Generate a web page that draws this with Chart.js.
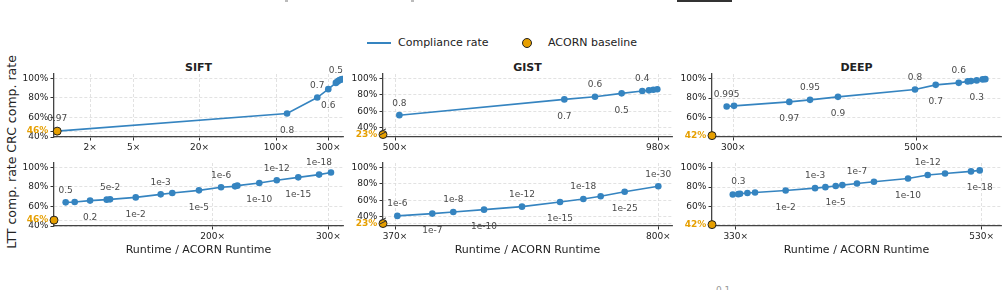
<!DOCTYPE html>
<html>
<head>
<meta charset="utf-8">
<script src="https://cdn.jsdelivr.net/npm/chart.js@4"></script>
<style>
  html, body { margin: 0; padding: 0; background: #fff; }
  body { width: 1007px; height: 290px; position: relative; overflow: hidden; font-family: "DejaVu Sans", sans-serif; color: #222; }
  canvas { position: absolute; }
  .txt { position: absolute; white-space: nowrap; }
  .title { position: absolute; text-align: center; font-weight: bold; font-size: 11px; line-height: 14px; }
  .ylab { position: absolute; font-size: 12.5px; line-height: 14px; transform: translate(-50%, -50%) rotate(-90deg); white-space: nowrap; }
</style>
</head>
<body>
<!-- leftovers of the figures above and below, cut by the crop -->
<div style="position:absolute;left:677px;top:0;width:55px;height:2px;background:#333"></div>
<div style="position:absolute;left:285px;top:0;width:3px;height:2px;background:#bbb"></div>
<div style="position:absolute;left:411px;top:0;width:3px;height:2px;background:#bbb"></div>
<div class="txt" style="left:716px;top:285px;font-size:9px;line-height:10px;color:#999">0.1</div>

<!-- legend -->
<div style="position:absolute;left:367px;top:42px;width:24px;height:2px;background:#3584c0"></div>
<div class="txt" style="left:398px;top:36px;font-size:11px;line-height:14px">Compliance rate</div>
<div style="position:absolute;left:522px;top:38px;width:8px;height:8px;border-radius:50%;background:#e69f00;border:1px solid #222"></div>
<div class="txt" style="left:548px;top:36px;font-size:11px;line-height:14px">ACORN baseline</div>

<div class="title" style="left:54px;top:61px;width:289px">SIFT</div>
<div class="title" style="left:383px;top:61px;width:289px">GIST</div>
<div class="title" style="left:712px;top:61px;width:289px">DEEP</div>

<div class="ylab" style="left:12px;top:152px">LTT comp. rate CRC comp. rate</div>

<canvas id="c00"></canvas>
<canvas id="c01"></canvas>
<canvas id="c02"></canvas>
<canvas id="c10"></canvas>
<canvas id="c11"></canvas>
<canvas id="c12"></canvas>

<script>
// ACORN baseline (comp. rate, %)
const siftBase = 46;
const gistBase = 23;
const deepBase = 42;

// SIFT, CRC (x = runtime / ACORN runtime, y = comp. rate %)
const siftCrcX = [1, 126, 238, 300, 352, 362, 372, 382, 392, 403];
const siftCrcY = [46, 64, 80.4, 89, 95.4, 96.5, 97.5, 98.3, 98.9, 99.3];
const siftCrcLbl = ['0.97', '0.8', '0.7', '0.6', '0.5', '', '', '', '', ''];
const siftCrcTicks = [2, 5, 20, 100, 300];

// SIFT, LTT
const siftLttX = [72.8, 80.6, 93.9, 108.3, 111.2, 133.4, 155, 165, 188.1, 207.2, 219.3, 221.3, 240.3, 255.4, 274, 292, 302.3];
const siftLttY = [64.2, 64.6, 66, 67, 67.3, 69.3, 72.4, 73.8, 76.5, 79.6, 80.6, 81.3, 84.1, 86.8, 89.8, 92.6, 94.7];
const siftLttLbl = ['0.5', '', '0.2', '', '5e-2', '1e-2', '1e-3', '', '1e-5', '1e-6', '', '', '1e-10', '1e-12', '1e-15', '1e-18', ''];
const siftLttTicks = [200, 300];

// GIST, CRC
const gistCrcX = [507.9, 808.7, 864.6, 913.2, 950.8, 963, 970.9, 978.2];
const gistCrcY = [55.4, 74.5, 77.7, 81.8, 84.6, 85.4, 86.2, 86.7];
const gistCrcLbl = ['0.8', '0.7', '0.6', '0.5', '0.4', '', '', ''];
const gistCrcTicks = [500, 980];

// GIST, LTT
const gistLttX = [373.8, 430.9, 465.2, 515.4, 577.4, 639.5, 677.6, 705.9, 745.1, 800];
const gistLttY = [41.2, 44, 46, 48.8, 52.4, 58.1, 61.7, 64.9, 70.5, 77];
const gistLttLbl = ['1e-6', '1e-7', '1e-8', '1e-10', '1e-12', '1e-15', '1e-18', '', '1e-25', '1e-30'];
const gistLttTicks = [370, 800];

// DEEP, CRC
const deepCrcX = [292.8, 300.8, 361.1, 383.7, 414.2, 498.2, 520.8, 545.9, 555.7, 559.3, 565.5, 572, 574.9];
const deepCrcY = [71.6, 72.2, 76.2, 78.3, 81.3, 88.8, 93.5, 95.5, 97, 97.3, 98, 99, 99.3];
const deepCrcLbl = ['0.995', '', '0.97', '0.95', '0.9', '0.8', '0.7', '0.6', '', '', '0.3', '', ''];
const deepCrcTicks = [300, 500];

// DEEP, LTT
const deepLttX = [327.6, 332.1, 333.5, 339.5, 345.7, 370.6, 394.5, 402.9, 411.3, 416.7, 428.6, 442.4, 470.1, 486.1, 500.2, 521.3, 528.4];
const deepLttY = [72.5, 72.9, 73.3, 74, 74.6, 76.6, 79, 80, 81.1, 82.1, 83.7, 85.5, 88.8, 92.3, 93.9, 96, 97];
const deepLttLbl = ['', '0.3', '', '', '', '1e-2', '1e-3', '', '1e-5', '', '1e-7', '', '1e-10', '1e-12', '', '', '1e-18'];
const deepLttTicks = [330, 530];

const yTickVals = [40, 60, 80, 100];

const BLUE = '#3584c0';
const ORANGE = '#e69f00';
const GRID = '#dadada';
const SPINE = '#444';

Chart.defaults.font.family = '"DejaVu Sans", sans-serif';
Chart.defaults.animation = false;

// layout of the plot areas
const COLS = [54, 383, 712];
const ROWS = [74, 163];
const AREA_W = 289, AREA_H = 63;
const PAD_T = 12, PAD_R = 10;
const YW = [54, 40, 40];
const XH = [16, 31];

// threshold labels, alternately above and below the points
const pointLabels = {
  id: 'pointLabels',
  afterDatasetsDraw(chart, args, opts) {
    const meta = chart.getDatasetMeta(0);
    const ctx = chart.ctx;
    ctx.save();
    ctx.font = '9px "DejaVu Sans"';
    ctx.fillStyle = '#4a4a4a';
    ctx.textAlign = 'center';
    ctx.textBaseline = 'middle';
    let k = 0;
    opts.labels.forEach((t, i) => {
      if (!t) return;
      const p = meta.data[i];
      ctx.fillText(t, p.x, k % 2 === 0 ? p.y - 12 : p.y + 17);
      k++;
    });
    // little break mark on the spine when the baseline is below the axis
    if (opts.brk) {
      const x = chart.chartArea.left;
      const y = chart.scales.y.getPixelForValue(40) + 3;
      ctx.strokeStyle = '#333';
      ctx.lineWidth = 1;
      ctx.beginPath();
      ctx.moveTo(x - 3, y + 1); ctx.lineTo(x + 3, y - 2);
      ctx.moveTo(x - 3, y + 4); ctx.lineTo(x + 3, y + 1);
      ctx.stroke();
    }
    ctx.restore();
  }
};

function panel(id, col, row, o) {
  const cv = document.getElementById(id);
  const w = YW[col] + AREA_W + PAD_R;
  const h = PAD_T + AREA_H + XH[row];
  cv.width = w; cv.height = h;
  cv.style.left = (COLS[col] - YW[col]) + 'px';
  cv.style.top = (ROWS[row] - PAD_T) + 'px';
  cv.style.width = w + 'px'; cv.style.height = h + 'px';

  const dispBase = o.base < o.yMin ? o.yMin + 3 : o.base;
  const baseX = Math.max(1, o.xMin);
  const isBase = c => c.tick && c.tick.value === dispBase;

  const grid = { color: GRID, lineWidth: 0.8, tickColor: '#333', tickLength: 3.5, tickWidth: 1, tickBorderDash: [] };
  const border = { color: SPINE, width: 1.3, dash: [3, 2] };

  new Chart(cv, {
    type: 'scatter',
    data: {
      datasets: [{
        data: o.xs.map((x, i) => ({ x: x, y: o.ys[i] })),
        showLine: true,
        borderColor: BLUE,
        backgroundColor: BLUE,
        borderWidth: 1.6,
        pointRadius: 3.3,
        pointBorderWidth: 0,
        order: 1
      }, {
        data: [{ x: baseX, y: dispBase }],
        backgroundColor: ORANGE,
        borderColor: '#222',
        borderWidth: 1,
        pointRadius: 4,
        clip: false,
        order: 0
      }]
    },
    options: {
      responsive: false,
      devicePixelRatio: 1,
      layout: { padding: { left: 0, top: PAD_T, right: PAD_R, bottom: 0 } },
      plugins: {
        legend: { display: false },
        tooltip: { enabled: false },
        pointLabels: { labels: o.lbls, brk: o.base < o.yMin }
      },
      scales: {
        x: {
          type: o.log ? 'logarithmic' : 'linear',
          min: o.xMin, max: o.xMax,
          afterBuildTicks: s => { s.ticks = o.xTicks.map(v => ({ value: v })); },
          afterFit: s => { s.height = XH[row]; },
          ticks: { callback: v => v + '×', color: '#222', font: { size: 9 }, padding: 2, maxRotation: 0, autoSkip: false },
          grid: grid,
          border: border,
          title: { display: row === 1, text: 'Runtime / ACORN Runtime', color: '#222', font: { size: 11 }, padding: 0 }
        },
        y: {
          min: o.yMin, max: o.yMax,
          afterBuildTicks: s => {
            const v = yTickVals.filter(t => t >= o.yMin).concat([dispBase]).sort((a, b) => a - b);
            s.ticks = v.map(t => ({ value: t }));
          },
          afterFit: s => { s.width = YW[col]; },
          ticks: {
            callback: v => (v === dispBase ? o.base : v) + '%',
            color: c => isBase(c) ? ORANGE : '#222',
            font: c => ({ size: 9, weight: isBase(c) ? 'bold' : 'normal' }),
            padding: 2.3,
            autoSkip: false
          },
          grid: grid,
          border: border
        }
      }
    },
    plugins: [pointLabels]
  });
}

panel('c00', 0, 0, { log: true, xs: siftCrcX, ys: siftCrcY, lbls: siftCrcLbl, xTicks: siftCrcTicks, base: siftBase, xMin: 0.935, xMax: 409, yMin: 40, yMax: 104.5 });
panel('c10', 0, 1, { xs: siftLttX, ys: siftLttY, lbls: siftLttLbl, xTicks: siftLttTicks, base: siftBase, xMin: 62.7, xMax: 312.7, yMin: 40, yMax: 104.5 });
panel('c01', 1, 0, { xs: gistCrcX, ys: gistCrcY, lbls: gistCrcLbl, xTicks: gistCrcTicks, base: gistBase, xMin: 478.1, xMax: 1005, yMin: 29, yMax: 105.2 });
panel('c11', 1, 1, { xs: gistLttX, ys: gistLttY, lbls: gistLttLbl, xTicks: gistLttTicks, base: gistBase, xMin: 350.4, xMax: 822.4, yMin: 29, yMax: 105.2 });
panel('c02', 2, 0, { xs: deepCrcX, ys: deepCrcY, lbls: deepCrcLbl, xTicks: deepCrcTicks, base: deepBase, xMin: 276.8, xMax: 592, yMin: 40.6, yMax: 104.5 });
panel('c12', 2, 1, { xs: deepLttX, ys: deepLttY, lbls: deepLttLbl, xTicks: deepLttTicks, base: deepBase, xMin: 310.7, xMax: 545.7, yMin: 40.6, yMax: 104.5 });
</script>
</body>
</html>
